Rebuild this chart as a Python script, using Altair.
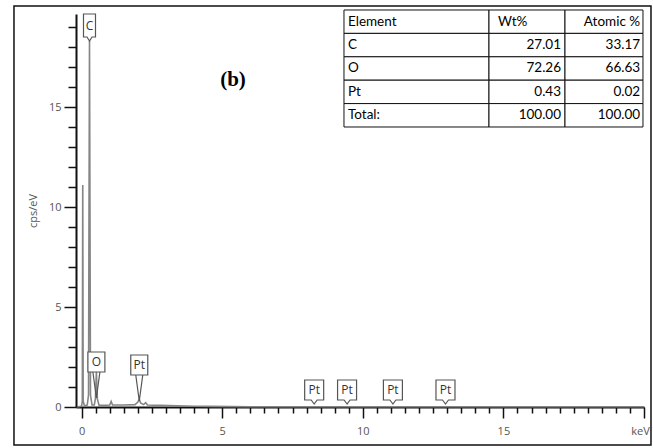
import altair as alt
import pandas as pd

# ---- spectrum (energy in keV, intensity in cps/eV) ----
energy = [-0.15, 0.0, 0.025, 0.04, 0.055, 0.1, 0.2, 0.245, 0.28, 0.315, 0.37,
          0.45, 0.49, 0.525, 0.56, 0.62, 0.8, 1.0, 1.05, 1.1, 1.5, 1.9, 2.0,
          2.05, 2.1, 2.2, 2.28, 2.34, 2.8, 3.4, 4.0, 4.6, 6.0, 20.0]
cps = [0.0, 0.05, 0.3, 11.1, 0.3, 0.05, 0.1, 0.6, 18.3, 0.6, 0.1,
       0.1, 0.4, 1.75, 0.4, 0.08, 0.08, 0.1, 0.28, 0.1, 0.1, 0.12, 0.25,
       0.38, 0.2, 0.12, 0.22, 0.1, 0.08, 0.06, 0.04, 0.03, 0.01, 0.01]

# ---- peak markers ----
tag_name = ["C", "O", "Pt", "Pt", "Pt", "Pt", "Pt"]
tag_energy = [0.28, 0.525, 2.05, 8.27, 9.44, 11.07, 12.94]
tag_tip = [18.3, 0.45, 0.3, 0.15, 0.15, 0.15, 0.15]
tag_kind = ["tall", "long", "long", "short", "short", "short", "short"]

# ---- quantification table ----
header = ["Element", "Wt%", "Atomic %"]
elements = ["C", "O", "Pt", "Total:"]
wt_pct = ["27.01", "72.26", "0.43", "100.00"]
atomic_pct = ["33.17", "66.63", "0.02", "100.00"]

# ---- axis ticks ----
x_ticks = [i * 0.5 for i in range(41)]
y_ticks = list(range(20))

W, H = 568, 393
AXIS_COLOR = "#111111"
LABEL_COLOR = "#555555"
FONT = "Open Sans"

spec_df = pd.DataFrame({"energy": energy, "cps": cps})
tag_df = pd.DataFrame({"name": tag_name, "energy": tag_energy,
                       "cps": tag_tip, "kind": tag_kind})

xscale = alt.Scale(domain=[-0.2, 20], nice=False, zero=False)
yscale = alt.Scale(domain=[0, 19.65], nice=False, zero=False)

xaxis = alt.Axis(
    values=x_ticks, grid=False, title=None,
    domainColor=AXIS_COLOR, domainWidth=2,
    tickColor=AXIS_COLOR, tickWidth=1.5,
    tickSize={"condition": {"test": "datum.value % 5 === 0", "value": 11}, "value": 6},
    labelExpr="datum.value === 20 ? 'keV' : (datum.value % 5 === 0 ? format(datum.value, 'd') : '')",
    labelOffset={"condition": {"test": "datum.value === 20", "value": -4}, "value": 0},
    labelColor=LABEL_COLOR, labelFont=FONT, labelFontSize=11, labelPadding=7,
    labelFlush=False, labelOverlap=False,
)
yaxis = alt.Axis(
    values=y_ticks, grid=False, title="cps/eV",
    domainColor=AXIS_COLOR, domainWidth=2,
    tickColor=AXIS_COLOR, tickWidth=1.5,
    tickSize={"condition": {"test": "datum.value % 5 === 0", "value": 12}, "value": 8},
    labelExpr="datum.value % 5 === 0 ? datum.label : ''",
    labelColor=LABEL_COLOR, labelFont=FONT, labelFontSize=11, labelPadding=3,
    labelFlush=False, labelOverlap=False,
    titleColor=LABEL_COLOR, titleFont=FONT, titleFontSize=11,
    titleFontWeight="normal", titlePadding=10,
)

X = alt.X("energy:Q", scale=xscale, axis=xaxis)
Y = alt.Y("cps:Q", scale=yscale, axis=yaxis)

spectrum = alt.Chart(spec_df).mark_line(
    color="#858585", strokeWidth=1.6, interpolate="linear"
).encode(x=X, y=Y)

TAG_STROKE = "#555555"

# marker outlines, drawn with the tip at the origin (1 unit = 1 px at size 4)
tall_path = "M0,0 L-2.5,-4 L-6,-4 L-6,-27 L6,-27 L6,-4 L2.5,-4 Z"
short_path = "M0,0 L-3,-4 L-9.5,-4 L-9.5,-24 L9.5,-24 L9.5,-4 L3,-4 Z"
long_box_path = "M-8.5,-26 L-8.5,-46 L8.5,-46 L8.5,-26 Z"
long_v_path = "M-3.5,-26 L0,0 L3.5,-26"


def tag_layer(kind, path, filled=True):
    return alt.Chart(tag_df).transform_filter(
        alt.datum.kind == kind
    ).mark_point(
        shape=path, size=4, fill="white" if filled else None,
        fillOpacity=1 if filled else 0, stroke=TAG_STROKE,
        strokeWidth=1.2, opacity=1,
    ).encode(x=X, y=Y)


def tag_text(kind, dy):
    return alt.Chart(tag_df).transform_filter(
        alt.datum.kind == kind
    ).mark_text(
        font=FONT, fontSize=12, color="#333333", dy=dy, baseline="middle"
    ).encode(x=X, y=Y, text="name:N")


tags = [
    tag_layer("tall", tall_path), tag_text("tall", -15.5),
    tag_layer("short", short_path), tag_text("short", -14),
    tag_layer("long", long_v_path, filled=False),
    tag_layer("long", long_box_path), tag_text("long", -36),
]

data_layer = alt.layer(spectrum, *tags)

# ---- overlay in axes-fraction coordinates (0..1 across the plot area) ----
FX = alt.Scale(domain=[0, 1], range=[0, W], nice=False, zero=False)
FY = alt.Scale(domain=[0, 1], range=[H, 0], nice=False, zero=False)

frame_df = pd.DataFrame({"x0": [-0.1092], "x1": [1.0123], "y0": [-0.0967], "y1": [1.0204]})
frame = alt.Chart(frame_df).mark_rect(
    fill=None, stroke="#111111", strokeWidth=1.5
).encode(
    x=alt.X("x0:Q", scale=FX, axis=None), x2="x1:Q",
    y=alt.Y("y0:Q", scale=FY, axis=None), y2="y1:Q",
)

col_edges = [0.4718, 0.7271, 0.8609, 0.9982]
table_top, table_bottom = 1.0102, 0.7125
n_rows = 1 + len(elements)
row_h = (table_top - table_bottom) / n_rows

cells = []
for r in range(n_rows):
    for c in range(3):
        cells.append({"x0": col_edges[c], "x1": col_edges[c + 1],
                      "y0": table_top - (r + 1) * row_h, "y1": table_top - r * row_h})
cell_df = pd.DataFrame(cells)
table_cells = alt.Chart(cell_df).mark_rect(
    fill="white", stroke="#111111", strokeWidth=1
).encode(
    x=alt.X("x0:Q", scale=FX, axis=None), x2="x1:Q",
    y=alt.Y("y0:Q", scale=FY, axis=None), y2="y1:Q",
)

rows = [header] + [[e, w, a] for e, w, a in zip(elements, wt_pct, atomic_pct)]
text_rows = []
for r, row in enumerate(rows):
    yc = table_top - (r + 0.5) * row_h
    text_rows.append({"x": col_edges[0] + 0.007, "y": yc, "t": row[0], "al": "left"})
    if r == 0:
        text_rows.append({"x": col_edges[1] + 0.016, "y": yc, "t": row[1], "al": "left"})
    else:
        text_rows.append({"x": col_edges[2] - 0.007, "y": yc, "t": row[1], "al": "right"})
    text_rows.append({"x": col_edges[3] - 0.005, "y": yc, "t": row[2], "al": "right"})
text_df = pd.DataFrame(text_rows)

table_left = alt.Chart(text_df).transform_filter(alt.datum.al == "left").mark_text(
    font="Lato", fontSize=13.5, color="#000000", align="left", baseline="middle"
).encode(x=alt.X("x:Q", scale=FX, axis=None), y=alt.Y("y:Q", scale=FY, axis=None), text="t:N")
table_right = alt.Chart(text_df).transform_filter(alt.datum.al == "right").mark_text(
    font="Lato", fontSize=13.5, color="#000000", align="right", baseline="middle"
).encode(x=alt.X("x:Q", scale=FX, axis=None), y=alt.Y("y:Q", scale=FY, axis=None), text="t:N")

panel_df = pd.DataFrame({"x": [0.2764], "y": [0.832], "t": ["(b)"]})
panel_label = alt.Chart(panel_df).mark_text(
    font="Liberation Serif", fontSize=21, fontWeight="bold", color="#000000",
    align="center", baseline="middle"
).encode(x=alt.X("x:Q", scale=FX, axis=None), y=alt.Y("y:Q", scale=FY, axis=None), text="t:N")

overlay = alt.layer(frame, table_cells, table_left, table_right, panel_label)

chart = alt.layer(data_layer, overlay).resolve_scale(
    x="independent", y="independent"
).properties(
    width=W, height=H,
    autosize=alt.AutoSizeParams(type="none"),
    padding={"left": 76, "top": 14, "right": 9, "bottom": 41},
    background="white",
).configure_view(stroke=None)

chart.save("out.html", embed_options={"renderer": "svg", "actions": False})
